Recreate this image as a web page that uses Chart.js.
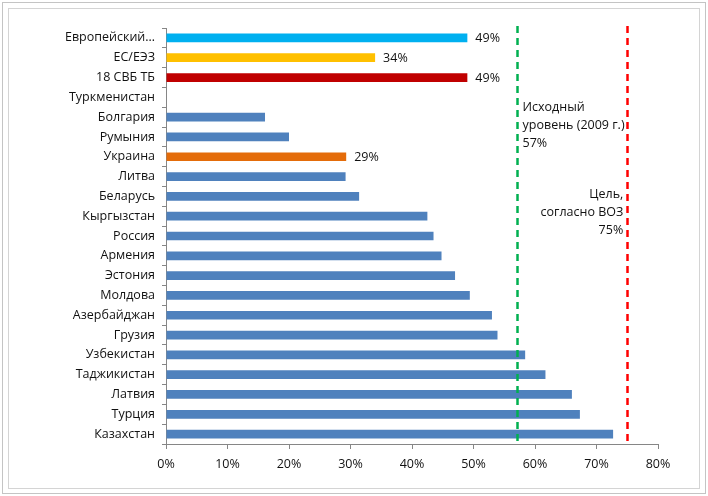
<!DOCTYPE html>
<html>
<head>
<meta charset="utf-8">
<script src="https://cdn.jsdelivr.net/npm/chart.js@4"></script>
<style>
  html, body { margin: 0; padding: 0; background: #fff; }
  #wrap { width: 708px; height: 496px; position: relative; }
</style>
</head>
<body>
<div id="wrap"><canvas id="myChart" width="708" height="496"></canvas></div>
<script>
// ---- данные ----
const labels = ['Европейский регион ВОЗ', 'ЕС/ЕЭЗ', '18 СВБ ТБ', 'Туркменистан', 'Болгария', 'Румыния',
	'Украина', 'Литва', 'Беларусь', 'Кыргызстан', 'Россия', 'Армения', 'Эстония', 'Молдова',
	'Азербайджан', 'Грузия', 'Узбекистан', 'Таджикистан', 'Латвия', 'Турция', 'Казахстан'];
const values = [49, 34, 49, null, 16.1, 20.0, 29.3, 29.2, 31.4, 42.5, 43.5, 44.8, 47.0, 49.4,
	53.0, 53.9, 58.4, 61.7, 66.0, 67.3, 72.7];
const barColors = ['#00B0F0', '#FFC000', '#C00000', '#4F81BD', '#4F81BD', '#4F81BD',
	'#E46C0A', '#4F81BD', '#4F81BD', '#4F81BD', '#4F81BD', '#4F81BD', '#4F81BD', '#4F81BD',
	'#4F81BD', '#4F81BD', '#4F81BD', '#4F81BD', '#4F81BD', '#4F81BD', '#4F81BD'];
const shownLabels = ['49%', '34%', '49%', '', '', '', '29%', '', '', '', '', '', '', '',
	'', '', '', '', '', '', ''];
const xTicks = [0, 10, 20, 30, 40, 50, 60, 70, 80];
const baseLevel = 57;   // Исходный уровень (2009 г.)
const targetLevel = 75; // Цель ВОЗ

const FONT = "'Open Sans', 'DejaVu Sans', sans-serif";

// рамка + линии + подписи
const extras = {
	id: 'extras',
	beforeDraw(chart) {
		const c = chart.ctx;
		c.save();
		c.fillStyle = '#fff';
		c.fillRect(0, 0, chart.width, chart.height);
		c.strokeStyle = '#c4c4c4';
		c.lineWidth = 1;
		c.strokeRect(2.5, 2.5, 703, 491);
		c.strokeStyle = '#d4d4d4';
		c.strokeRect(8.5, 8.5, 691, 480);
		c.restore();
	},
	afterDatasetsDraw(chart) {
		const c = chart.ctx;
		const x = chart.scales.x, y = chart.scales.y;
		const top = chart.chartArea.top - 2, bottom = chart.chartArea.bottom;
		c.save();
		// вертикальные линии
		[[baseLevel, '#00B050'], [targetLevel, '#FF0000']].forEach(function(l){
			const px = Math.round(x.getPixelForValue(l[0])) + 0.5;
			c.strokeStyle = l[1];
			c.lineWidth = 2.5;
			c.setLineDash([7, 5]);
			c.beginPath();
			c.moveTo(px, top);
			c.lineTo(px, bottom);
			c.stroke();
		});
		c.setLineDash([]);
		c.font = '12.5px ' + FONT;
		c.fillStyle = '#111';
		c.textBaseline = 'middle';
		// подписи значений
		const meta = chart.getDatasetMeta(0);
		meta.data.forEach(function(bar, i){
			if (!shownLabels[i]) return;
			c.textAlign = 'left';
			c.fillText(shownLabels[i], bar.x + 8, bar.y + 1);
		});
		// текст у линий
		const gx = x.getPixelForValue(baseLevel);
		c.textAlign = 'left';
		['Исходный', 'уровень (2009 г.)', baseLevel + '%'].forEach(function(t, i){
			c.fillText(t, gx + 6, 107 + i * 18);
		});
		const rx = x.getPixelForValue(targetLevel);
		c.textAlign = 'right';
		['Цель,', 'согласно ВОЗ', targetLevel + '%'].forEach(function(t, i){
			c.fillText(t, rx - 4, 194 + i * 18);
		});
		c.restore();
	}
};

const ctx = document.getElementById('myChart').getContext('2d');
const myChart = new Chart(ctx, {
	type: 'bar',
	data: {
		labels: labels,
		datasets: [{
			data: values,
			backgroundColor: barColors,
			borderWidth: 0,
			categoryPercentage: 0.44,
			barPercentage: 1
		}]
	},
	options: {
		indexAxis: 'y',
		responsive: false,
		animation: false,
		layout: { padding: { top: 28, right: 50, bottom: 12, left: 0 } },
		plugins: {
			legend: { display: false },
			tooltip: { enabled: false }
		},
		scales: {
			x: {
				min: 0,
				max: 80,
				afterBuildTicks: function(axis){
					axis.ticks = xTicks.map(function(v){ return { value: v }; });
				},
				afterFit: function(axis){ axis.height = 40; },
				border: { color: '#868686', width: 1 },
				grid: { drawOnChartArea: false, color: '#868686', tickLength: 5 },
				ticks: {
					color: '#111',
					font: { family: FONT, size: 12.5 },
					padding: 8,
					callback: function(v){ return v + '%'; }
				}
			},
			y: {
				afterFit: function(axis){ axis.width = 166; },
				border: { color: '#868686', width: 1 },
				grid: { drawOnChartArea: false, color: '#868686', tickLength: 4, offset: true },
				ticks: {
					color: '#111',
					font: { family: FONT, size: 12.5 },
					padding: 7,
					autoSkip: false,
					callback: function(v, i){
						const t = labels[i];
						return t.length > 12 ? 'Европейский…' : t;
					}
				}
			}
		}
	},
	plugins: [extras]
});
</script>
</body>
</html>
